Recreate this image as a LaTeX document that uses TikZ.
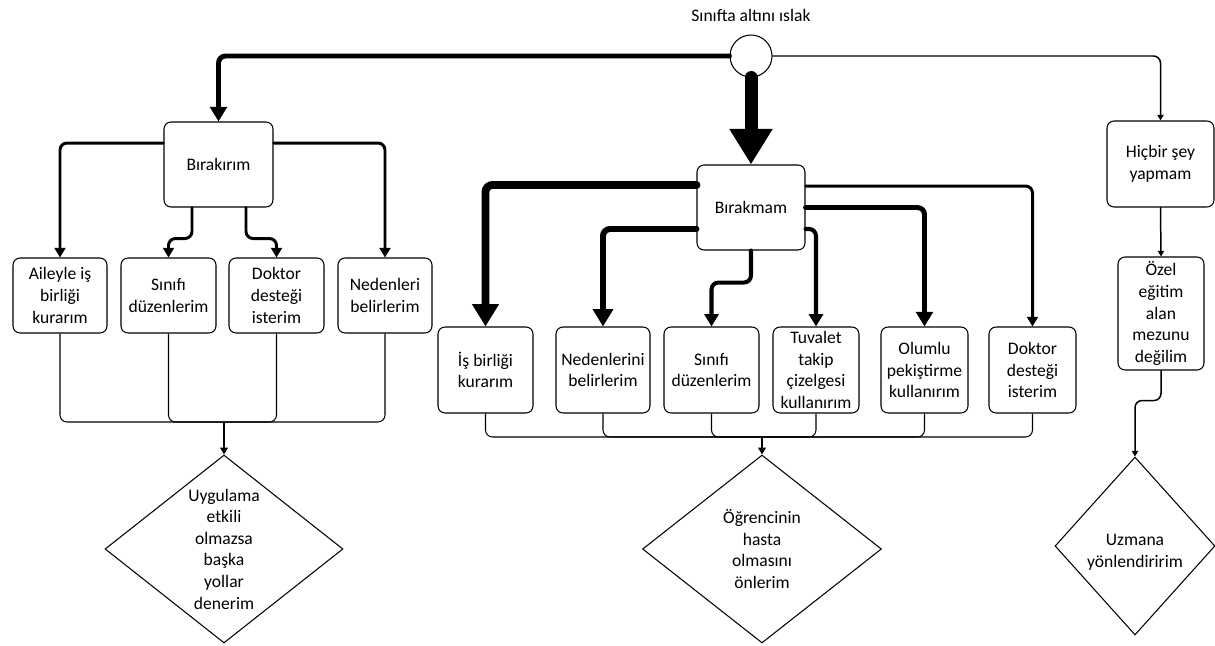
\documentclass[tikz,border=0pt]{standalone}
\usepackage{fontspec}
\setmainfont{Carlito}
\usetikzlibrary{shapes.geometric,arrows.meta}

\begin{document}
\begin{tikzpicture}[x=0.02cm, y=-0.02cm,
    font=\fontsize{10}{12.3}\selectfont,
    box/.style 2 args={draw, rounded corners=4pt, align=center, inner sep=1pt,
      line width=0.6pt, minimum width=#1, minimum height=#2},
    dia/.style 2 args={draw, diamond, inner sep=0pt, line width=0.6pt,
      minimum width=#1, minimum height=#2},
    flow/.style={line width=#1, rounded corners=4pt, line cap=round,
      -{Triangle[length=1pt 2.6, width=1pt 3]}},
    merge/.style={line width=0.6pt, rounded corners=4pt}]

  \useasboundingbox (0,0) rectangle (1215,646);

  % Start
  \node (ttl) at (751,15) {Sınıfta altını ıslak};
  \node[circle, draw, line width=0.6pt, minimum size=0.84cm, inner sep=0pt] (cir) at (751,56) {};

  % Left branch
  \node[box={2.18cm}{1.7cm}] (bra) at (218.5,164.5) {Bırakırım};

  \node[box={1.88cm}{1.5cm}] (aile) at (60,295.5) {Aileyle iş\\birliği\\kurarım};
  \node[box={1.9cm}{1.5cm}] (sin1) at (168.5,295.5) {Sınıfı\\düzenlerim};
  \node[box={1.9cm}{1.5cm}] (dok1) at (276.5,295.5) {Doktor\\desteği\\isterim};
  \node[box={1.88cm}{1.5cm}] (nedl) at (385,295.5) {Nedenleri\\belirlerim};

  \coordinate (m1) at (224,422);
  \node[dia={4.76cm}{3.76cm}] (d1) at (224,549) {};
  \node[align=center] (t1) at (d1) {Uygulama\\etkili\\olmazsa\\başka\\yollar\\denerim};

  % Middle branch
  \node[box={2.16cm}{1.7cm}] (bmm) at (751,207.5) {Bırakmam};

  \node[box={1.9cm}{1.72cm}] (ib) at (485.5,370) {İş birliği\\kurarım};
  \node[box={1.88cm}{1.72cm}] (ned) at (603,370) {Nedenlerini\\belirlerim};
  \node[box={1.9cm}{1.72cm}] (sd) at (711.5,370) {Sınıfı\\düzenlerim};
  \node[box={1.72cm}{1.72cm}] (tuv) at (816,370) {Tuvalet\\takip\\çizelgesi\\kullanırım};
  \node[box={1.74cm}{1.72cm}] (olu) at (924.5,370) {Olumlu\\pekiştirme\\kullanırım};
  \node[box={1.74cm}{1.72cm}] (dok2) at (1032.5,370) {Doktor\\desteği\\isterim};

  \coordinate (m2) at (762,437);
  \node[dia={4.78cm}{3.76cm}] (d2) at (762,549) {};
  \node[align=center] (t2) at (d2) {Öğrencinin\\hasta\\olmasını\\önlerim};

  % Right branch
  \node[box={2.14cm}{1.72cm}] (hic) at (1160.5,164) {Hiçbir şey\\yapmam};
  \node[box={1.72cm}{2.26cm}] (oze) at (1161,313.5) {Özel\\eğitim\\alan\\mezunu\\değilim};
  \node[dia={3.2cm}{3.56cm}] (d3) at (1135,546) {};
  \node[align=center] (t3) at (1135,552) {Uzmana\\yönlendiririm};

  % Arrows from the start
  \draw[flow=2.8pt] (cir.west) -| (bra.north);
  \draw[flow=7.4pt] (cir.south) -- (bmm.north);
  \draw[flow=0.85pt] (cir.east) -| (hic.north);

  % Left arrows
  \draw[flow=1.7pt] ([yshift=0.43cm]bra.west) -| (aile.north);
  \draw[flow=1.7pt] ([yshift=0.43cm]bra.east) -| (nedl.north);
  \draw[flow=1.7pt] ([xshift=-0.53cm]bra.south) -- ++(0,31) -| (sin1.north);
  \draw[flow=1.7pt] ([xshift=0.55cm]bra.south) -- ++(0,31) -| (dok1.north);

  \draw[merge] (aile.south) |- (m1);
  \draw[merge] (sin1.south) |- (m1);
  \draw[merge] (dok1.south) |- (m1);
  \draw[merge] (nedl.south) |- (m1);
  \draw[flow=1.1pt] (m1) -- (d1.north);

  % Middle arrows
  \draw[flow=4.5pt] ([yshift=0.45cm]bmm.west) -| (ib.north);
  \draw[flow=3.4pt] ([yshift=-0.43cm]bmm.west) -| (ned.north);
  \draw[flow=2.3pt] (bmm.south) -- ++(0,32) -| (sd.north);
  \draw[flow=2.3pt] ([yshift=-0.43cm]bmm.east) -| (tuv.north);
  \draw[flow=2.8pt] (bmm.east) -| (olu.north);
  \draw[flow=1.7pt] ([yshift=0.43cm]bmm.east) -| (dok2.north);

  \draw[merge] (ib.south) |- (m2);
  \draw[merge] (ned.south) |- (m2);
  \draw[merge] (sd.south) |- (m2);
  \draw[merge] (tuv.south) |- (m2);
  \draw[merge] (olu.south) |- (m2);
  \draw[merge] (dok2.south) |- (m2);
  \draw[flow=1.1pt] (m2) -- (d2.north);

  % Right arrows
  \draw[flow=0.85pt] (hic.south) -- (oze.north);
  \draw[flow=0.85pt] (oze.south) -- ++(0,30) -| (d3.north);
\end{tikzpicture}
\end{document}
